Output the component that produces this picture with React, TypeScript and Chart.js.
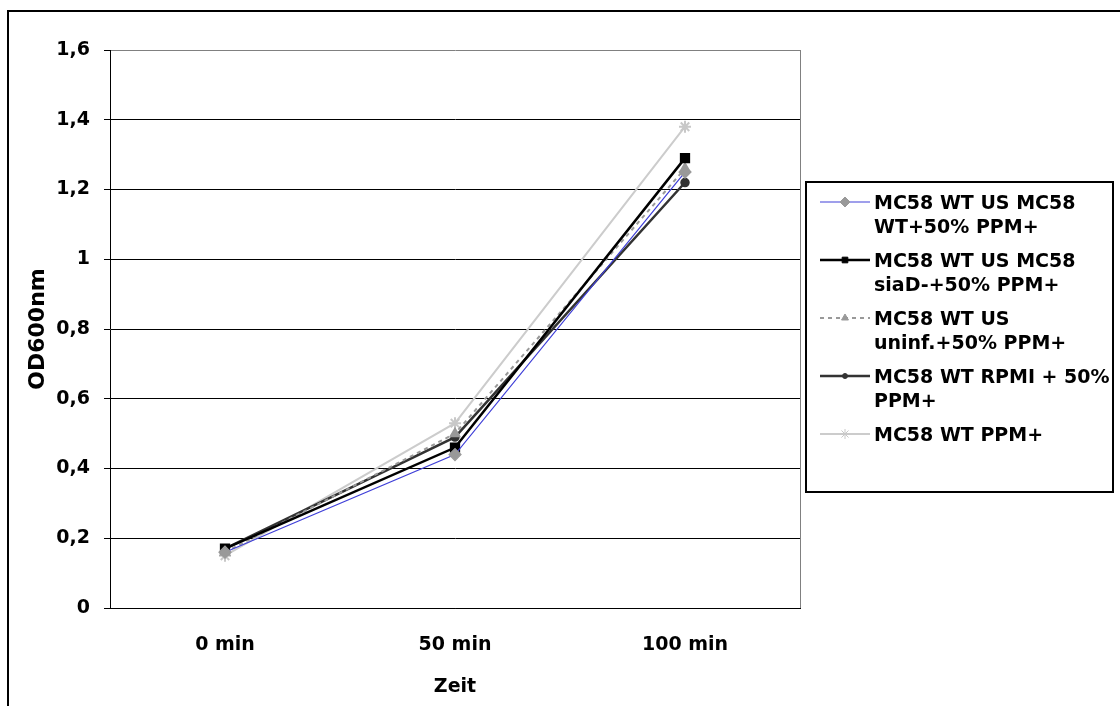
import React, { useEffect, useRef } from 'react';
import { Chart, registerables } from 'chart.js';

Chart.register(...registerables);

const categories = ['0 min', '50 min', '100 min'];
const seriesWtPpm50 = [0.16, 0.44, 1.25];
const seriesSiaD = [0.17, 0.46, 1.29];
const seriesUninf = [0.16, 0.5, 1.26];
const seriesRpmi = [0.17, 0.49, 1.22];
const seriesPpm = [0.15, 0.53, 1.38];

const seriesLabels = [
  'MC58 WT US MC58 WT+50% PPM+',
  'MC58 WT US MC58 siaD-+50% PPM+',
  'MC58 WT US uninf.+50% PPM+',
  'MC58 WT RPMI + 50% PPM+',
  'MC58 WT PPM+',
];
const legendLines = [
  ['MC58 WT US MC58', 'WT+50% PPM+'],
  ['MC58 WT US MC58', 'siaD-+50% PPM+'],
  ['MC58 WT US', 'uninf.+50% PPM+'],
  ['MC58 WT RPMI + 50%', 'PPM+'],
  ['MC58 WT PPM+'],
];
const yTickLabels = ['0', '0,2', '0,4', '0,6', '0,8', '1', '1,2', '1,4', '1,6'];
const xAxisTitle = 'Zeit';
const yAxisTitle = 'OD600nm';

const FONT_FAMILY = '"DejaVu Sans", "Liberation Sans", Arial, sans-serif';

function drawMarker(ctx: CanvasRenderingContext2D, style: string, x: number, y: number, r: number, fill: string, stroke: string) {
  ctx.save();
  ctx.fillStyle = fill;
  ctx.strokeStyle = stroke;
  ctx.lineWidth = 1;
  ctx.setLineDash([]);
  ctx.beginPath();
  if (style === 'rectRot') {
    ctx.moveTo(x, y - r);
    ctx.lineTo(x + r, y);
    ctx.lineTo(x, y + r);
    ctx.lineTo(x - r, y);
    ctx.closePath();
    ctx.fill();
    ctx.stroke();
  } else if (style === 'rect') {
    const s = r * Math.SQRT1_2;
    ctx.rect(x - s, y - s, 2 * s, 2 * s);
    ctx.fill();
    ctx.stroke();
  } else if (style === 'triangle') {
    ctx.moveTo(x, y - r);
    ctx.lineTo(x + r * 0.87, y + r * 0.5);
    ctx.lineTo(x - r * 0.87, y + r * 0.5);
    ctx.closePath();
    ctx.fill();
    ctx.stroke();
  } else if (style === 'circle') {
    ctx.arc(x, y, r, 0, Math.PI * 2);
    ctx.fill();
    ctx.stroke();
  } else if (style === 'star') {
    for (let k = 0; k < 4; k++) {
      const a = (k * Math.PI) / 4;
      ctx.moveTo(x + Math.cos(a) * r, y + Math.sin(a) * r);
      ctx.lineTo(x - Math.cos(a) * r, y - Math.sin(a) * r);
    }
    ctx.stroke();
  }
  ctx.restore();
}

const decorPlugin = {
  id: 'decor',
  beforeDraw(chart: any) {
    const ctx = chart.ctx as CanvasRenderingContext2D;
    ctx.save();
    ctx.fillStyle = '#000';
    ctx.fillRect(7, 10, 2, 706);
    ctx.fillRect(7, 10, 1113, 2);
    ctx.restore();
  },
  beforeDatasetsDraw(chart: any) {
    const ctx = chart.ctx as CanvasRenderingContext2D;
    const { top, bottom, right } = chart.chartArea;
    ctx.save();
    ctx.strokeStyle = '#808080';
    ctx.lineWidth = 1;
    ctx.beginPath();
    ctx.moveTo(Math.round(right) + 0.5, top);
    ctx.lineTo(Math.round(right) + 0.5, bottom);
    ctx.stroke();
    ctx.restore();
  },
  afterDraw(chart: any) {
    const ctx = chart.ctx as CanvasRenderingContext2D;
    ctx.save();
    ctx.strokeStyle = '#000';
    ctx.lineWidth = 2;
    ctx.strokeRect(806, 182, 307, 310);
    ctx.font = `bold 19px ${FONT_FAMILY}`;
    ctx.textAlign = 'left';
    ctx.textBaseline = 'alphabetic';
    chart.data.datasets.forEach((ds: any, i: number) => {
      const baseY = 209 + i * 58;
      const symY = baseY - 7;
      ctx.save();
      ctx.strokeStyle = ds.borderColor;
      ctx.lineWidth = ds.borderWidth;
      ctx.setLineDash(ds.borderDash || []);
      ctx.beginPath();
      ctx.moveTo(820, symY);
      ctx.lineTo(870, symY);
      ctx.stroke();
      ctx.restore();
      drawMarker(ctx, ds.pointStyle, 845, symY, ds.legendRadius, ds.pointBackgroundColor, ds.pointBorderColor);
      ctx.fillStyle = '#000';
      legendLines[i].forEach((line, j) => {
        ctx.fillText(line, 874, baseY + j * 24);
      });
    });
    ctx.restore();
  },
};

export default function App() {
  const canvasRef = useRef<HTMLCanvasElement | null>(null);

  useEffect(() => {
    const canvas = canvasRef.current;
    if (!canvas) return;
    const font = { family: FONT_FAMILY, size: 19, weight: 'bold' as const };
    const titleFontY = { family: FONT_FAMILY, size: 22, weight: 'bold' as const };
    const chart = new Chart(canvas, {
      type: 'line',
      data: {
        labels: categories,
        datasets: [
          {
            label: seriesLabels[0],
            data: seriesWtPpm50,
            borderColor: '#4040d8',
            borderWidth: 1.2,
            pointStyle: 'rectRot',
            pointRadius: 6,
            pointBackgroundColor: '#999999',
            pointBorderColor: '#999999',
            legendRadius: 5,
          } as any,
          {
            label: seriesLabels[1],
            data: seriesSiaD,
            borderColor: '#000000',
            borderWidth: 2.5,
            pointStyle: 'rect',
            pointRadius: 5.5,
            pointBackgroundColor: '#000000',
            pointBorderColor: '#000000',
            legendRadius: 4,
          } as any,
          {
            label: seriesLabels[2],
            data: seriesUninf,
            borderColor: '#999999',
            borderWidth: 2,
            borderDash: [4, 4],
            pointStyle: 'triangle',
            pointRadius: 5,
            pointBackgroundColor: '#999999',
            pointBorderColor: '#999999',
            legendRadius: 4,
          } as any,
          {
            label: seriesLabels[3],
            data: seriesRpmi,
            borderColor: '#333333',
            borderWidth: 2.5,
            pointStyle: 'circle',
            pointRadius: 3.5,
            pointBackgroundColor: '#333333',
            pointBorderColor: '#333333',
            legendRadius: 2.5,
          } as any,
          {
            label: seriesLabels[4],
            data: seriesPpm,
            borderColor: '#cccccc',
            borderWidth: 2,
            pointStyle: 'star',
            pointRadius: 6,
            pointBackgroundColor: '#c8c8c8',
            pointBorderColor: '#c8c8c8',
            legendRadius: 5,
          } as any,
        ],
      },
      options: {
        responsive: false,
        animation: false,
        devicePixelRatio: 1,
        layout: { padding: { left: 0, top: 50, right: 320, bottom: 0 } },
        plugins: {
          legend: { display: false },
          tooltip: { enabled: false },
        },
        elements: { line: { tension: 0 } },
        scales: {
          x: {
            type: 'category',
            offset: true,
            grid: { display: true, drawOnChartArea: false, drawTicks: false },
            border: { color: '#000', width: 1 },
            ticks: { color: '#000', font, padding: 26, maxRotation: 0 },
            title: {
              display: true,
              text: xAxisTitle,
              color: '#000',
              font,
              padding: { top: 0, bottom: 8 },
            },
            afterFit: (scale: any) => {
              scale.height = 98;
            },
          },
          y: {
            min: 0,
            max: 1.6,
            ticks: {
              stepSize: 0.2,
              color: '#000',
              font,
              padding: 14,
              callback: (_v: any, index: number) => yTickLabels[index],
            },
            grid: {
              color: (c: any) => (c.tick && Math.abs(c.tick.value - 1.6) < 1e-6 ? '#808080' : '#000000'),
              tickColor: '#000',
              tickLength: 6,
              lineWidth: 1,
            },
            border: { color: '#000', width: 1 },
            title: {
              display: true,
              text: yAxisTitle,
              color: '#000',
              font: titleFontY,
              padding: { top: 25, bottom: 0 },
            },
            afterFit: (scale: any) => {
              scale.width = 110;
            },
          },
        },
      },
      plugins: [decorPlugin],
    });
    return () => chart.destroy();
  }, []);

  return (
    <div style={{ position: 'fixed', left: 0, top: 0, width: 1120, height: 706, background: '#fff' }}>
      <canvas ref={canvasRef} width={1120} height={706} style={{ display: 'block', width: 1120, height: 706 }} />
    </div>
  );
}
